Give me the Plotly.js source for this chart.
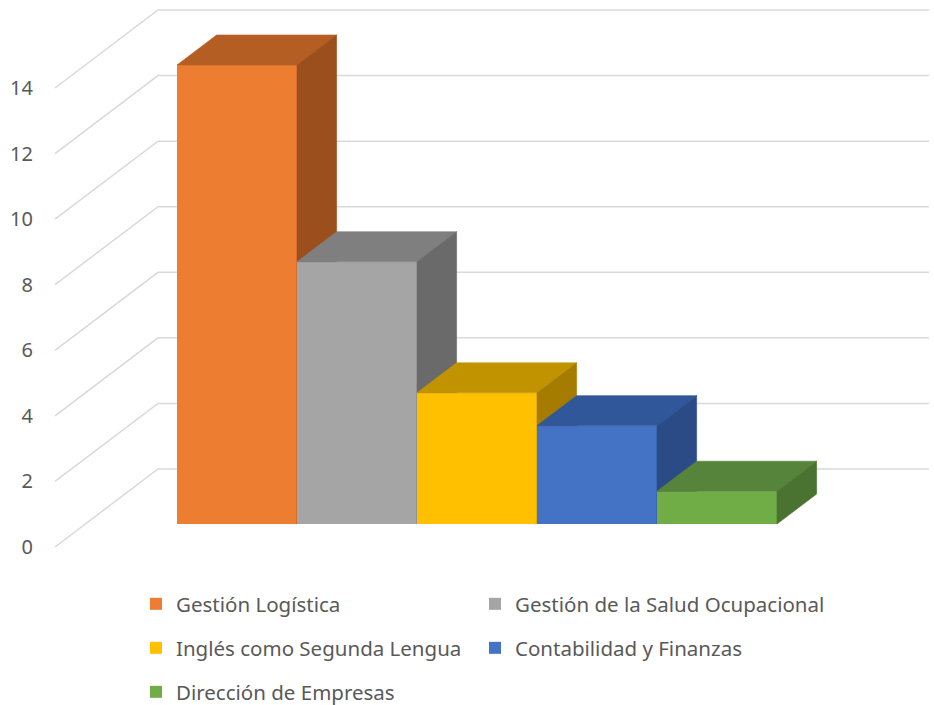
<!DOCTYPE html>
<html>
<head>
<meta charset="utf-8">
<script src="https://cdn.plot.ly/plotly-3.0.1.min.js"></script>
<style>html,body{margin:0;padding:0;background:#fff;}#chart{width:934px;height:705px;}</style>
</head>
<body>
<div id="chart"></div>
<script>
// ---- data ----
var categories = ["Gestión Logística", "Gestión de la Salud Ocupacional", "Inglés como Segunda Lengua", "Contabilidad y Finanzas", "Dirección de Empresas"];
var values = [14, 8, 4, 3, 1];
var tickValues = [0, 2, 4, 6, 8, 10, 12, 14];
var frontColors = ["#ED7D31", "#A5A5A5", "#FFC000", "#4472C4", "#70AD47"];
var topColors = ["#B45E23", "#7F7F7F", "#C29300", "#30579A", "#55843A"];
var sideColors = ["#9A4F1D", "#6A6A6A", "#A57C00", "#2A4B85", "#4A7230"];

// ---- 3D projection settings (layout) ----
var W = 934, H = 705;
var ML = 34, MB = 145;
var PX0 = 237, PXU = 120, PY0 = 524, PYU = 32.786;
var xRange = [(ML - PX0) / PXU, (W - PX0) / PXU];
var yRange = [(PY0 - (H - MB)) / PYU, PY0 / PYU];
var DEPTH_X = 103 / PXU, DEPTH_Y = 78 / PYU;
var Z_FRONT = 23 / 78, Z_BACK = 53 / 78;
var X_LEFT = (55 - PX0) / PXU + Z_FRONT * DEPTH_X;
var X_RIGHT = (929 - PX0) / PXU - (1 - Z_FRONT) * DEPTH_X;

function proj(x, y, z) {
  return [x + (z - Z_FRONT) * DEPTH_X, y + (z - Z_FRONT) * DEPTH_Y];
}

var traces = [];
// wall gridlines
var gx = [], gy = [];
tickValues.forEach(function (v) {
  [[X_LEFT, v, 0], [X_LEFT, v, 1], [X_RIGHT, v, 1]].forEach(function (p) {
    var q = proj(p[0], p[1], p[2]);
    gx.push(q[0]); gy.push(q[1]);
  });
  gx.push(null); gy.push(null);
});
traces.push({type: "scatter", mode: "lines", x: gx, y: gy, xaxis: "x", yaxis: "y",
  line: {color: "#D9D9D9", width: 1.5}, hoverinfo: "skip", showlegend: false});

var legendNames = ["legend", "legend2", "legend3", "legend4", "legend5"];
var legendPos = [[136, 604], [475, 604], [136, 648], [475, 648], [136, 692]];

function poly(pts, color, ax, ay) {
  var xs = [], ys = [];
  pts.forEach(function (p) { var q = proj(p[0], p[1], p[2]); xs.push(q[0]); ys.push(q[1]); });
  return {type: "scatter", mode: "lines", x: xs, y: ys, fill: "toself", fillcolor: color,
    line: {width: 0.6, color: color}, xaxis: ax, yaxis: ay, hoverinfo: "skip", showlegend: false};
}

categories.forEach(function (c, i) {
  var v = values[i];
  var k = i + 2;
  var ax = "x" + k, ay = "y" + k;
  var a = i - 0.5, b = i + 0.5;
  traces.push({type: "bar", x: [i], y: [v], width: 1, name: c, xaxis: ax, yaxis: ay,
    legend: legendNames[i],
    marker: {color: frontColors[i], line: {width: 0}}, hoverinfo: "name+y"});
  traces.push(poly([[a, v, Z_FRONT], [b, v, Z_FRONT], [b, v, Z_BACK], [a, v, Z_BACK], [a, v, Z_FRONT]], topColors[i], ax, ay));
  traces.push(poly([[b, 0, Z_FRONT], [b, 0, Z_BACK], [b, v, Z_BACK], [b, v, Z_FRONT], [b, 0, Z_FRONT]], sideColors[i], ax, ay));
});

var font = {family: "Noto Sans, sans-serif", color: "#595959", size: 18};
var layout = {
  width: W, height: H,
  margin: {l: ML, r: 0, t: 0, b: MB, pad: 0, autoexpand: false},
  paper_bgcolor: "#ffffff", plot_bgcolor: "#ffffff",
  font: font,
  showlegend: true,
  xaxis: {range: xRange, visible: false, fixedrange: true},
  yaxis: {range: yRange, showgrid: false, zeroline: false, showline: false, ticks: "",
    tickmode: "array",
    tickvals: tickValues.map(function (v) { return proj(0, v, 0)[1]; }),
    ticktext: tickValues.map(String),
    tickfont: {family: "Noto Sans, sans-serif", size: 20, color: "#595959"},
    fixedrange: true}
};
for (var k = 2; k <= 6; k++) {
  layout["xaxis" + k] = {range: xRange, visible: false, overlaying: "x", fixedrange: true};
  layout["yaxis" + k] = {range: yRange, visible: false, overlaying: "y", fixedrange: true};
}
legendNames.forEach(function (name, r) {
  layout[name] = {orientation: "h",
    x: (legendPos[r][0] - ML) / (W - ML), xanchor: "left",
    y: ((H - MB) - legendPos[r][1]) / (H - MB), yanchor: "middle",
    font: {family: "Noto Sans, sans-serif", size: 20.5, color: "#595959"},
    bgcolor: "rgba(0,0,0,0)", itemclick: false, itemdoubleclick: false};
});

Plotly.newPlot("chart", traces, layout, {displayModeBar: false, staticPlot: true});
</script>
</body>
</html>
